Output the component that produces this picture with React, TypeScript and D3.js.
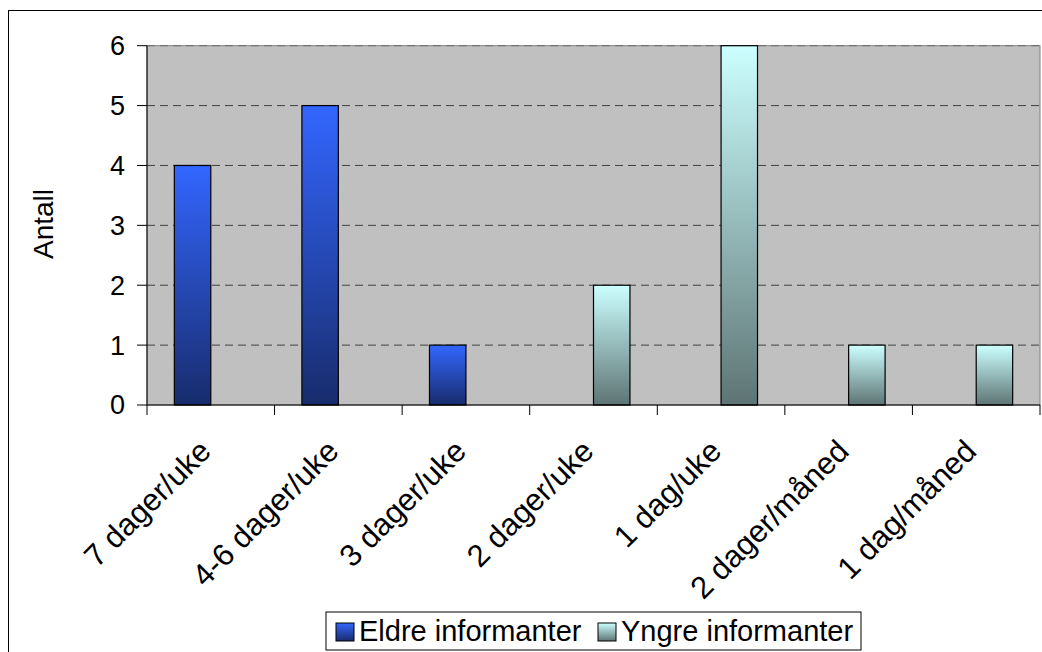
import React from 'react';
import * as d3 from 'd3';

const categories = ['7 dager/uke', '4-6 dager/uke', '3 dager/uke', '2 dager/uke', '1 dag/uke', '2 dager/måned', '1 dag/måned'];
const seriesNames = ['Eldre informanter', 'Yngre informanter'];
const eldre = [4, 5, 1, 0, 0, 0, 0];
const yngre = [0, 0, 0, 2, 6, 1, 1];
const yTicks = [0, 1, 2, 3, 4, 5, 6];

const W = 1042;
const H = 652;
const plot = { left: 147, right: 1040, top: 45.7, bottom: 405 };
const font = '"Liberation Sans", Arial, sans-serif';

const App = () => {
  const x = d3.scaleBand().domain(categories).range([plot.left, plot.right]).padding(0);
  const xs = d3.scaleBand().domain(seriesNames).range([0, x.bandwidth()]).paddingInner(0).paddingOuter(0.75);
  const y = d3.scaleLinear().domain([0, 6]).range([plot.bottom, plot.top]);

  const series = [
    { name: seriesNames[0], values: eldre, grad: 'gEldre' },
    { name: seriesNames[1], values: yngre, grad: 'gYngre' },
  ];

  const boundaries = d3.range(categories.length + 1).map(i => plot.left + i * x.step());

  return (
    <svg width={W} height={H} style={{ position: 'absolute', left: 0, top: 0, background: '#fff' }} fontFamily={font}>
      <defs>
        <linearGradient id="gEldre" x1="0" y1="0" x2="0" y2="1">
          <stop offset="0" stopColor="#3366ff" />
          <stop offset="1" stopColor="#182c6c" />
        </linearGradient>
        <linearGradient id="gYngre" x1="0" y1="0" x2="0" y2="1">
          <stop offset="0" stopColor="#ccffff" />
          <stop offset="1" stopColor="#5e7474" />
        </linearGradient>
      </defs>

      {/* chart border */}
      <rect x={8.5} y={10.5} width={W} height={H} fill="none" stroke="#000" strokeWidth={1} />

      {/* plot area */}
      <rect x={plot.left} y={plot.top} width={plot.right - plot.left} height={plot.bottom - plot.top}
        fill="#c0c0c0" stroke="#808080" strokeWidth={1} />

      {/* gridlines */}
      {yTicks.filter(t => t > 0).map(t => (
        <line key={t} x1={plot.left} x2={plot.right} y1={y(t)} y2={y(t)}
          stroke="#404040" strokeWidth={1} strokeDasharray="8,5" opacity={t === 6 ? 0.5 : 1} />
      ))}

      {/* bars */}
      {series.map(s => (
        <g key={s.name}>
          {s.values.map((v, i) => v > 0 ? (
            <rect key={i} x={x(categories[i])! + xs(s.name)!} y={y(v)} width={xs.bandwidth()}
              height={y(0) - y(v)} fill={`url(#${s.grad})`} stroke="#000" strokeWidth={1.2} />
          ) : null)}
        </g>
      ))}

      {/* y axis */}
      <line x1={plot.left} x2={plot.left} y1={plot.top} y2={plot.bottom} stroke="#000" />
      {yTicks.map(t => (
        <g key={t}>
          <line x1={plot.left - 10} x2={plot.left} y1={y(t)} y2={y(t)} stroke="#000" />
          <text x={125} y={y(t)} dy="0.35em" textAnchor="end" fontSize={27} fill="#000">{t}</text>
        </g>
      ))}
      <text transform={`translate(53,224) rotate(-90)`} textAnchor="middle" fontSize={28} fill="#000">Antall</text>

      {/* x axis */}
      <line x1={plot.left} x2={plot.right} y1={plot.bottom} y2={plot.bottom} stroke="#000" />
      {boundaries.map((b, i) => (
        <line key={i} x1={b} x2={b} y1={plot.bottom} y2={plot.bottom + 10} stroke="#000" />
      ))}
      {categories.map(c => (
        <text key={c} transform={`translate(${x(c)! + x.bandwidth() / 2 + 2},${plot.bottom + 48}) rotate(-45)`}
          textAnchor="end" fontSize={31} fill="#000">{c}</text>
      ))}

      {/* legend */}
      <rect x={326} y={612} width={535} height={38} fill="#fff" stroke="#000" strokeWidth={1} />
      {series.map((s, i) => {
        const lx = i === 0 ? 336 : 598;
        return (
          <g key={s.name}>
            <rect x={lx} y={623} width={18} height={18} fill={`url(#${s.grad})`} stroke="#000" strokeWidth={1} />
            <text x={lx + 23} y={641} fontSize={29} fill="#000">{s.name}</text>
          </g>
        );
      })}
    </svg>
  );
};

export default App;
